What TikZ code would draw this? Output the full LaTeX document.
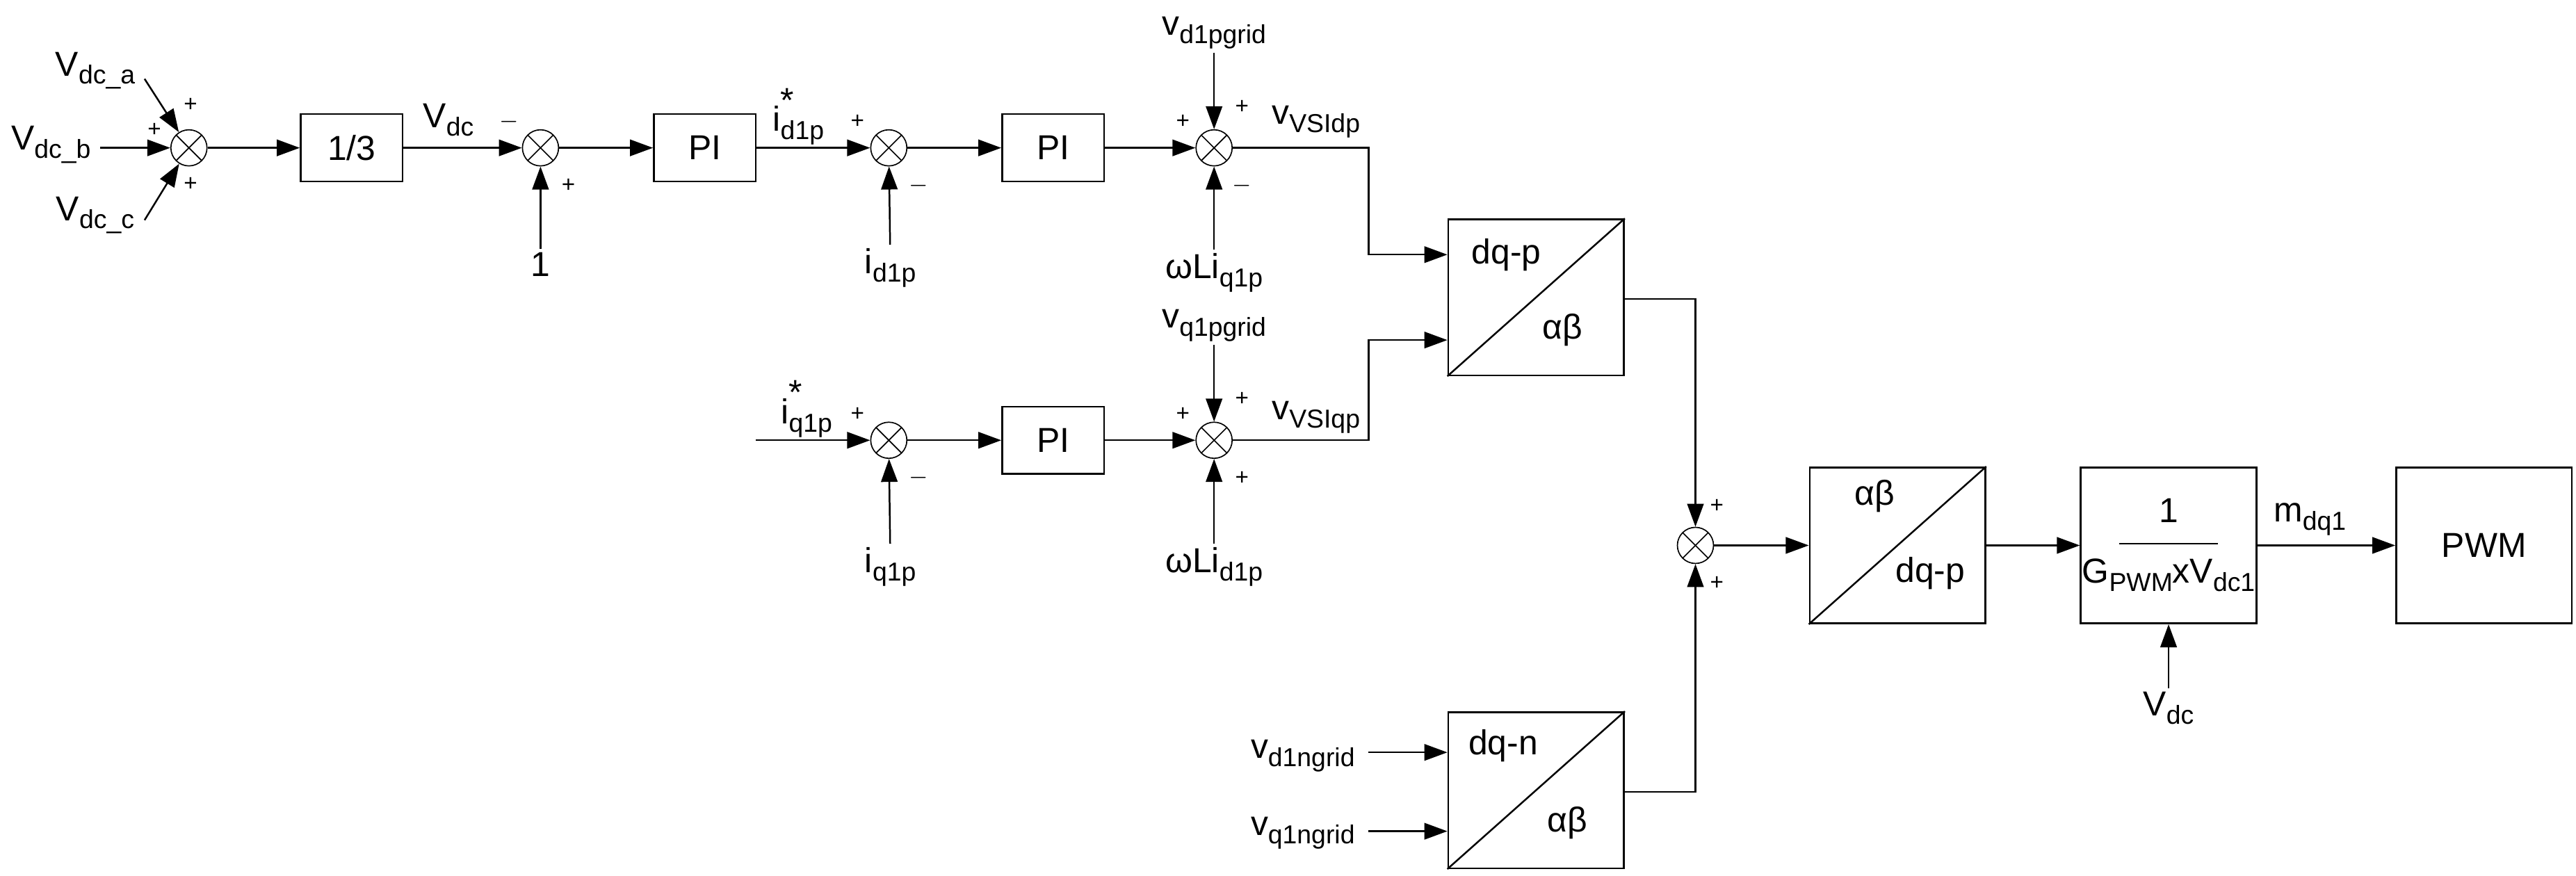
\documentclass[tikz,border=0pt]{standalone}
\usepackage{fontspec}
\setmainfont{Liberation Sans}
\usetikzlibrary{arrows.meta}
\newcommand\lo[1]{\raisebox{-0.45ex}{\fontsize{9}{10}\selectfont #1}}
\newcommand\supsub[2]{\raisebox{-0.45ex}{\rlap{\raisebox{1.5ex}{\fontsize{12}{12}\selectfont #1}}\fontsize{9}{10}\selectfont #2}}
\begin{document}
\begin{tikzpicture}[x=0.02cm,y=-0.02cm,
  line width=0.6pt,
  arr/.style={-{Triangle[length=0.28cm,width=0.2cm]}},
  sum/.style={circle,draw,line width=0.4pt,minimum size=0.44cm,inner sep=0pt,
    path picture={\draw[line width=0.4pt] (path picture bounding box.south west)--(path picture bounding box.north east)
      (path picture bounding box.north west)--(path picture bounding box.south east);}},
  blk/.style={draw,minimum width=1.24cm,minimum height=0.82cm,inner sep=0pt,font=\fontsize{12}{14}\selectfont},
  big/.style={draw,minimum width=2.14cm,minimum height=1.9cm,inner sep=0pt},
  lbl/.style={font=\fontsize{12}{14}\selectfont,inner sep=1pt},
  sg/.style={font=\fontsize{8}{9}\selectfont,inner sep=0pt}]
\useasboundingbox (0,0) rectangle (1568,533);
% row 1
\node[sum] (s1) at (115,90) {};
\node[blk] (b13) at (214,90) {1/3};
\node[sum] (s2) at (329,90) {};
\node[blk] (pi1) at (429,90) {PI};
\node[sum] (s3) at (541,90) {};
\node[blk] (pi2) at (641,90) {PI};
\node[sum] (s4) at (739,90) {};
% row 2
\node[sum] (s5) at (541,268) {};
\node[blk] (pi3) at (641,268) {PI};
\node[sum] (s6) at (739,268) {};
% transforms
\node[big] (dqp) at (935,181) {};
\draw (dqp.south west)--(dqp.north east);
\node[lbl] (dqpa) at (917,155) {dq-p};
\node[lbl] (dqpb) at (951,201) {αβ};
\node[big] (dqn) at (935,481) {};
\draw (dqn.south west)--(dqn.north east);
\node[lbl] (dqna) at (915,454) {dq-n};
\node[lbl] (dqnb) at (954,501) {αβ};
\node[sum] (s7) at (1032,332) {};
\node[big] (abd) at (1155,332) {};
\draw (abd.south west)--(abd.north east);
\node[lbl] (abda) at (1141,302) {αβ};
\node[lbl] (abdb) at (1175,349) {dq-p};
\node[big] (gain) at (1320,332) {};
\node[lbl] (g1) at (1320,311) {1};
\node[lbl] (g2) at (1320,350) {G\lo{PWM}xV\lo{dc1}};
\coordinate (fl) at (1290,331);
\coordinate (fr) at (1350,331);
\draw[line width=0.4pt] (fl)--(fr);
\node[big,font=\fontsize{12}{14}\selectfont] (pwm) at (1512,332) {PWM};
% labels
\node[lbl] (la) at (58,43) {V\lo{dc\_a}};
\node[lbl] (lb) at (31,88) {V\lo{dc\_b}};
\node[lbl] (lc) at (58,131) {V\lo{dc\_c}};
\coordinate (ca) at (88,48);
\coordinate (cb) at (61,90);
\coordinate (cc) at (88,134);
\node[lbl] (vdc) at (273,73) {V\lo{dc}};
\node[lbl] (one) at (329,161) {1};
\node[lbl] (ids) at (486,71) {i\supsub{*}{d1p}};
\node[lbl] (id) at (542,163) {i\lo{d1p}};
\node[lbl] (vdg) at (739,20) {v\lo{d1pgrid}};
\node[lbl] (wq) at (739,166) {ωLi\lo{q1p}};
\node[lbl] (vsd) at (801,74) {v\lo{VSIdp}};
\node[lbl] (iqs) at (491,249) {i\supsub{*}{q1p}};
\coordinate (iqin) at (460,268);
\node[lbl] (iq) at (542,345) {i\lo{q1p}};
\node[lbl] (vqg) at (739,198) {v\lo{q1pgrid}};
\node[lbl] (wd) at (739,345) {ωLi\lo{d1p}};
\node[lbl] (vsq) at (801,254) {v\lo{VSIqp}};
\node[lbl] (vdn) at (793,460) {v\lo{d1ngrid}};
\node[lbl] (vqn) at (793,507) {v\lo{q1ngrid}};
\coordinate (vdnc) at (833,458);
\coordinate (vqnc) at (833,506);
\node[lbl] (mdq) at (1406,316) {m\lo{dq1}};
\node[lbl] (vdc2) at (1320,431) {V\lo{dc}};
% signs
\node[sg] at (116,64) {+};
\node[sg] at (94,79) {+};
\node[sg] at (116,112) {+};
\node[sg] at (310,74) {$-$};
\node[sg] at (346,113) {+};
\node[sg] at (522,74) {+};
\node[sg] at (559,113) {$-$};
\node[sg] at (720,74) {+};
\node[sg] at (756,65) {+};
\node[sg] at (756,113) {$-$};
\node[sg] at (522,252) {+};
\node[sg] at (559,291) {$-$};
\node[sg] at (720,252) {+};
\node[sg] at (756,243) {+};
\node[sg] at (756,291) {+};
\node[sg] at (1045,308) {+};
\node[sg] at (1045,355) {+};
% connectors
\draw[arr] (ca)--(s1);
\draw[arr] (cb)--(s1);
\draw[arr] (cc)--(s1);
\draw[arr] (s1)--(b13);
\draw[arr] (b13)--(s2);
\draw[arr] (one)--(s2);
\draw[arr] (s2)--(pi1);
\draw[arr] (pi1)--(s3);
\draw[arr] (id)--(s3);
\draw[arr] (s3)--(pi2);
\draw[arr] (pi2)--(s4);
\draw[arr] (vdg)--(s4);
\draw[arr] (wq)--(s4);
\draw[arr] (iqin)--(s5);
\draw[arr] (iq)--(s5);
\draw[arr] (s5)--(pi3);
\draw[arr] (pi3)--(s6);
\draw[arr] (vqg)--(s6);
\draw[arr] (wd)--(s6);
\draw[arr] (s4.east)--(833,90)--(833,155)--(dqp.west|-{(0,155)});
\draw[arr] (s6.east)--(833,268)--(833,207)--(dqp.west|-{(0,207)});
\draw[arr] (vdnc)--(dqn.west|-vdnc);
\draw[arr] (vqnc)--(dqn.west|-vqnc);
\draw[arr] (dqp.east|-{(0,182)})--(1032,182)--(s7);
\draw[arr] (dqn.east|-{(0,482)})--(1032,482)--(s7);
\draw[arr] (s7)--(abd);
\draw[arr] (abd)--(gain);
\draw[arr] (gain)--(pwm);
\draw[arr] (vdc2)--(gain);
\end{tikzpicture}
\end{document}
